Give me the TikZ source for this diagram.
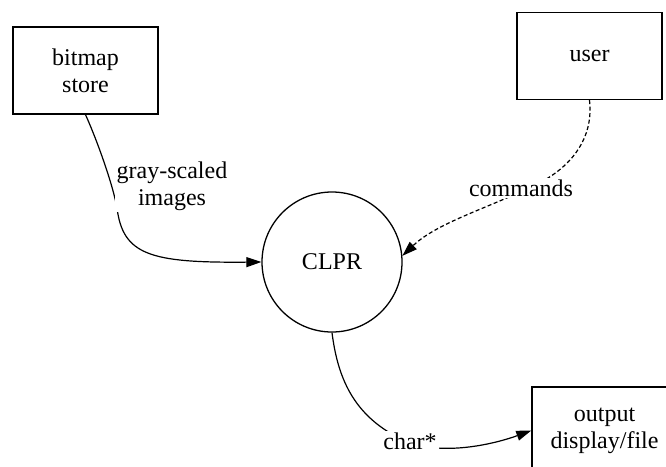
\documentclass[tikz,border=0pt]{standalone}
\usepackage{fontspec}
\setmainfont{Liberation Serif}
\usetikzlibrary{arrows.meta}
\begin{document}
\begin{tikzpicture}[x=1pt,y=-1pt,
  every node/.style={font=\fontsize{24}{27}\selectfont, align=center},
  store/.style={draw, line width=1.4pt, minimum width=145pt, minimum height=87pt, inner sep=0pt},
  proc/.style={draw, circle, line width=1.3pt, minimum size=140pt, inner sep=0pt},
  flow/.style={line width=1.2pt, -{Triangle[length=15pt,width=10pt]}},
  ctrl/.style={flow, dash pattern=on 4pt off 2.5pt},
  flowlabel/.style={fill=white, inner sep=2pt}]
  \useasboundingbox (0,0) rectangle (666,466);
  \clip (0,0) rectangle (666,466);

  % entities and the process
  \node[store] (bitmap) at (85.5,70.5) {bitmap\\store};
  \node[store] (user)   at (589.5,56)  {user};
  \node[proc]  (clpr)   at (332,262)   {CLPR};
  \node[store] (output) at (604.5,430.5) {output\\display/file};

  % data flows (drawn first, labels on top with a white ground)
  \draw[flow] (bitmap.south) .. controls (97,140) and (113,185) .. (117,208)
              .. controls (123,255) and (150,263) .. (clpr.west);
  \draw[ctrl] (user.south) .. controls (593,130) and (580,158) .. (548,178)
              .. controls (500,205) and (440,220) .. (clpr.5);
  \draw[flow] (clpr.south) .. controls (338,380) and (355,420) .. (410,443)
              .. controls (450,456) and (500,442) .. (output.west);

  \node[flowlabel] (lgray) at (172,186) {gray-scaled\\images};
  \node[flowlabel] (lcmd)  at (521,188) {commands};
  \node[flowlabel] (lchar) at (410,441) {char*};
\end{tikzpicture}
\end{document}
